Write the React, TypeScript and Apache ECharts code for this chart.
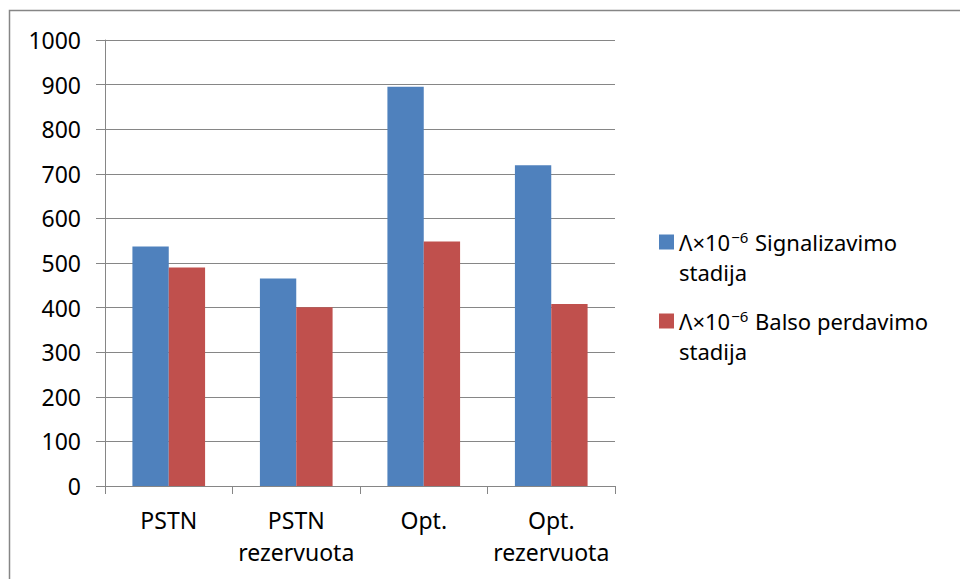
import React, { useEffect, useRef } from "react";
import * as echarts from "echarts";

const xLabels = ["PSTN", "PSTN\nrezervuota", "Opt.", "Opt.\nrezervuota"];
const seriesNames = ["Signalizavimo", "Balso perdavimo"];
const signalValues = [537, 465, 895, 719];
const voiceValues = [490, 401, 548, 408];
const colors = ["#4F81BD", "#C0504D"];

const FONT = "'Noto Sans', 'Open Sans', sans-serif";

export default function App() {
  const ref = useRef<HTMLDivElement>(null);
  useEffect(() => {
    if (!ref.current) return;
    const chart = echarts.init(ref.current, null, { renderer: "svg" });
    const legendText = {
      fontFamily: FONT,
      fontSize: 22,
      color: "#000",
      lineHeight: 30,
      rich: {
        t: { fontFamily: FONT, fontSize: 22, color: "#000", lineHeight: 30 },
        sup: { fontFamily: FONT, fontSize: 15, color: "#000", lineHeight: 30, padding: [0, 1, 11, 1] },
      },
    };
    const fmt = (name: string) => `{t|}\n{t|Λ×10}{sup|−6}{t| ${name}}\n{t|stadija}`;
    const mkLegend = (name: string, top: number) => ({
      data: [name],
      left: 659,
      top,
      padding: 0,
      orient: "vertical",
      itemWidth: 15,
      itemHeight: 15,
      itemGap: 0,
      icon: "rect",
      selectedMode: false,
      formatter: fmt,
      textStyle: legendText,
    });
    chart.setOption({
      animation: false,
      backgroundColor: "#fff",
      grid: { left: 105, right: 345, top: 40, bottom: 93, containLabel: false },
      legend: [mkLegend(seriesNames[0], 197), mkLegend(seriesNames[1], 276)],
      xAxis: {
        type: "category",
        data: xLabels,
        axisLine: { lineStyle: { color: "#868686", width: 1 } },
        axisTick: { show: true, length: 8, lineStyle: { color: "#868686" } },
        axisLabel: {
          fontFamily: FONT,
          fontSize: 23,
          color: "#000",
          lineHeight: 32,
          margin: 18,
          interval: 0,
        },
      },
      yAxis: {
        type: "value",
        min: 0,
        max: 1000,
        interval: 100,
        axisLine: { show: true, lineStyle: { color: "#868686", width: 1 } },
        axisTick: { show: true, length: 9, lineStyle: { color: "#868686" } },
        splitLine: { show: true, lineStyle: { color: "#868686", width: 1 } },
        axisLabel: {
          fontFamily: FONT,
          fontSize: 23,
          color: "#000",
          margin: 24,
          formatter: (v: number) => String(v),
        },
      },
      series: [
        {
          name: seriesNames[0],
          type: "bar",
          data: signalValues,
          itemStyle: { color: colors[0] },
          barGap: "0%",
          barCategoryGap: "43%",
        },
        {
          name: seriesNames[1],
          type: "bar",
          data: voiceValues,
          itemStyle: { color: colors[1] },
          barGap: "0%",
          barCategoryGap: "43%",
        },
      ],
      graphic: [
        {
          type: "rect",
          shape: { x: 9.5, y: 10.5, width: 1200, height: 1200 },
          style: { fill: "none", stroke: "#868686", lineWidth: 1.5 },
          silent: true,
          z: -1,
        },
      ],
    });
    return () => chart.dispose();
  }, []);
  return <div ref={ref} style={{ width: 960, height: 579, position: "absolute", left: 0, top: 0 }} />;
}
